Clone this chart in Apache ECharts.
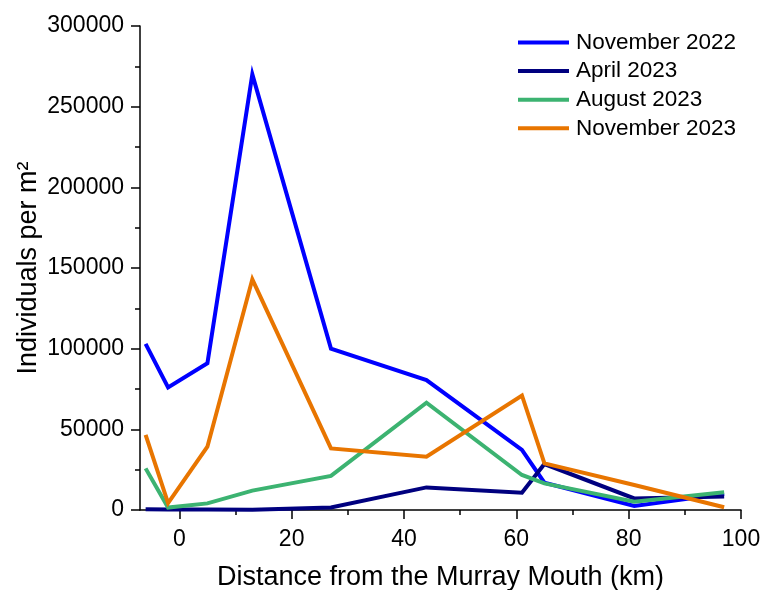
<!DOCTYPE html>
<html>
<head>
<meta charset="utf-8">
<script src="https://cdn.jsdelivr.net/npm/echarts@6/dist/echarts.min.js"></script>
<style>
html,body{margin:0;padding:0;background:#fff;}
#c{width:763px;height:590px;}
</style>
</head>
<body>
<div id="c"></div>
<script>
// Distance from the Murray Mouth (km)
const distances = [-6, -2, 5, 13, 27, 44, 61, 65, 81, 97];
const seriesNames = ['November 2022', 'April 2023', 'August 2023', 'November 2023'];
const nov2022 = [103000, 76000, 91000, 270000, 100000, 80500, 37200, 16900, 2500, 10000];
const apr2023 = [500, 300, 300, 200, 1500, 14000, 10700, 28500, 7200, 8300];
const aug2023 = [25800, 1500, 4100, 12000, 21100, 66500, 21700, 16500, 5100, 11000];
const nov2023 = [46500, 4300, 39200, 143000, 38200, 33000, 71000, 28900, 15500, 1700];
const xMajorTicks = [0, 20, 40, 60, 80, 100];
const xMinorTicks = [10, 30, 50, 70, 90];
const colors = ['#0000FF', '#00007F', '#3CB371', '#E87500'];

const valueSets = [nov2022, apr2023, aug2023, nov2023];
const chart = echarts.init(document.getElementById('c'), null, {renderer: 'canvas'});
const font = 'Liberation Sans, Arial, Helvetica, sans-serif';

const series = valueSets.map((vals, i) => ({
  name: seriesNames[i],
  type: 'line',
  xAxisIndex: 0,
  symbol: 'none',
  data: distances.map((d, j) => [d, vals[j]]),
  lineStyle: {color: colors[i], width: 4, join: 'miter'},
  itemStyle: {color: colors[i]},
  animation: false
}));

chart.setOption({
  backgroundColor: '#fff',
  animation: false,
  grid: {left: 140, right: 22, top: 26, bottom: 80, containLabel: false, outerBoundsMode: 'none'},
  legend: {
    orient: 'vertical',
    left: 518,
    top: 31,
    padding: 0,
    icon: 'rect',
    itemWidth: 51,
    itemHeight: 4,
    itemGap: 5.6,
    textStyle: {fontFamily: font, fontSize: 22.5, color: '#000', lineHeight: 22, padding: [0, 0, 0, 2]},
    data: seriesNames
  },
  xAxis: [{
    type: 'value',
    min: -7,
    max: 100,
    name: 'Distance from the Murray Mouth (km)',
    nameLocation: 'middle',
    nameGap: 54,
    nameMoveOverlap: false,
    nameTextStyle: {fontFamily: font, fontSize: 27, color: '#000'},
    axisLine: {show: true, onZero: false, lineStyle: {color: '#000', width: 1.5}},
    axisTick: {show: true, length: 9, customValues: xMajorTicks, lineStyle: {color: '#000', width: 1.5}},
    axisLabel: {customValues: xMajorTicks, fontFamily: font, fontSize: 23, color: '#000', margin: 18, formatter: v => String(v)},
    splitLine: {show: false}
  }, {
    type: 'value',
    min: -7,
    max: 100,
    position: 'bottom',
    axisLine: {show: false, onZero: false},
    axisTick: {show: true, length: 5, customValues: xMinorTicks, lineStyle: {color: '#000', width: 1.5}},
    axisLabel: {show: false},
    splitLine: {show: false}
  }],
  yAxis: {
    type: 'value',
    min: 0,
    max: 300000,
    interval: 50000,
    name: 'Individuals per m²',
    nameLocation: 'middle',
    nameGap: 98,
    nameMoveOverlap: false,
    nameTextStyle: {fontFamily: font, fontSize: 27, color: '#000'},
    axisLine: {show: true, onZero: false, lineStyle: {color: '#000', width: 1.5}},
    axisTick: {show: true, length: 9, lineStyle: {color: '#000', width: 1.5}},
    minorTick: {show: true, splitNumber: 2, length: 5, lineStyle: {color: '#000', width: 1.5}},
    axisLabel: {fontFamily: font, fontSize: 23, color: '#000', margin: 16, formatter: v => String(v)},
    splitLine: {show: false},
    minorSplitLine: {show: false}
  },
  series: series
});
</script>
</body>
</html>
